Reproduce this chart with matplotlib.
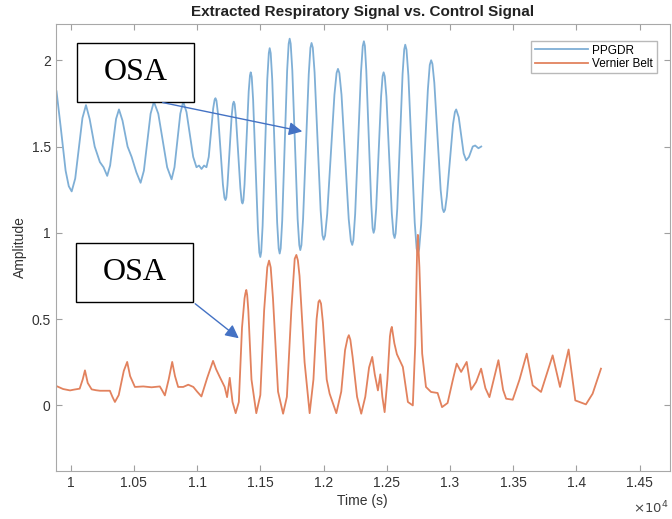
import matplotlib
matplotlib.use('Agg')
import matplotlib.pyplot as plt
from matplotlib.patches import Rectangle, FancyArrowPatch
from matplotlib.ticker import FuncFormatter

plt.rcParams['font.family'] = ['Liberation Sans', 'DejaVu Sans']

# PPGDR (extracted respiratory signal), time in s
ppg_t = [9888, 9920, 9960, 9985, 10008, 10036, 10093, 10121, 10150, 10190, 10231, 10260,
         10289, 10312, 10359, 10382, 10410, 10450, 10482, 10520, 10553, 10579, 10632, 10658,
         10693, 10763, 10798, 10821, 10867, 10890, 10916, 10969, 10995, 11015, 11035, 11055,
         11074, 11092, 11127, 11138, 11145, 11153, 11165, 11204, 11216, 11224, 11231, 11240,
         11273, 11283, 11290, 11297, 11307, 11342, 11352, 11359, 11366, 11375, 11408, 11418,
         11424, 11432, 11443, 11481, 11492, 11500, 11507, 11518, 11555, 11567, 11574, 11582,
         11594, 11633, 11645, 11653, 11661, 11673, 11712, 11724, 11732, 11740, 11753, 11795,
         11808, 11816, 11825, 11838, 11883, 11896, 11905, 11915, 11929, 11977, 11991, 12001,
         12012, 12029, 12086, 12103, 12114, 12125, 12142, 12199, 12216, 12227, 12236, 12250,
         12296, 12310, 12319, 12327, 12338, 12377, 12388, 12396, 12404, 12416, 12455, 12467,
         12475, 12484, 12497, 12540, 12553, 12562, 12570, 12583, 12625, 12638, 12646, 12656,
         12671, 12721, 12736, 12746, 12756, 12772, 12825, 12840, 12851, 12861, 12876, 12926,
         12941, 12951, 12961, 12975, 13024, 13039, 13049, 13069, 13108, 13128, 13150, 13180,
         13199, 13225, 13247]
ppg_y = [1.82, 1.62, 1.36, 1.27, 1.24, 1.315, 1.665, 1.74, 1.66, 1.50, 1.41, 1.38,
         1.33, 1.39, 1.66, 1.715, 1.65, 1.50, 1.44, 1.35, 1.29, 1.36, 1.69, 1.76,
         1.69, 1.38, 1.31, 1.38, 1.69, 1.76, 1.70, 1.44, 1.38, 1.39, 1.37, 1.39,
         1.38, 1.44, 1.72, 1.77, 1.78, 1.766, 1.69, 1.28, 1.204, 1.19, 1.204, 1.275,
         1.675, 1.746, 1.76, 1.746, 1.67, 1.26, 1.184, 1.17, 1.188, 1.28, 1.82, 1.912,
         1.93, 1.904, 1.77, 1.02, 0.886, 0.86, 0.889, 1.04, 1.89, 2.041, 2.07, 2.041,
         1.89, 1.06, 0.909, 0.88, 0.91, 1.07, 1.94, 2.095, 2.125, 2.096, 1.94, 1.08,
         0.929, 0.90, 0.929, 1.08, 1.92, 2.071, 2.10, 2.073, 1.93, 1.13, 0.987, 0.96,
         0.984, 1.11, 1.80, 1.926, 1.95, 1.926, 1.80, 1.08, 0.954, 0.93, 0.958, 1.11,
         1.93, 2.082, 2.11, 2.083, 1.94, 1.17, 1.027, 1.00, 1.022, 1.14, 1.79, 1.908,
         1.93, 1.907, 1.79, 1.11, 0.993, 0.97, 0.997, 1.14, 1.92, 2.063, 2.09, 2.061,
         1.91, 1.06, 0.909, 0.88, 0.907, 1.05, 1.83, 1.973, 2.00, 1.979, 1.87, 1.25,
         1.141, 1.12, 1.134, 1.21, 1.63, 1.70, 1.715, 1.67, 1.46, 1.42, 1.44, 1.50,
         1.506, 1.49, 1.50]

# Vernier Belt (control signal)
belt_t = [9888, 9940, 9995, 10030, 10071, 10095, 10113, 10135, 10166, 10200, 10232, 10310,
          10330, 10350, 10380, 10420, 10447, 10470, 10508, 10574, 10640, 10705, 10725, 10745,
          10775, 10803, 10825, 10850, 10890, 10930, 10970, 11000, 11034, 11080, 11126, 11150,
          11179, 11218, 11237, 11258, 11280, 11305, 11330, 11355, 11375, 11382, 11389, 11396,
          11405, 11430, 11468, 11500, 11530, 11555, 11569, 11582, 11600, 11640, 11680, 11710,
          11745, 11772, 11785, 11797, 11810, 11850, 11890, 11920, 11945, 11960, 11969, 11980,
          11995, 12025, 12048, 12101, 12140, 12170, 12190, 12200, 12212, 12230, 12265, 12298,
          12330, 12360, 12385, 12405, 12430, 12449, 12465, 12483, 12505, 12525, 12533, 12540,
          12560, 12580, 12627, 12667, 12706, 12725, 12740, 12746, 12758, 12780, 12810, 12850,
          12902, 12937, 12981, 13020, 13053, 13088, 13132, 13167, 13207, 13246, 13280, 13312,
          13383, 13420, 13444, 13496, 13550, 13607, 13654, 13720, 13812, 13870, 13938, 13991,
          14075, 14128, 14194]
belt_y = [0.112, 0.095, 0.087, 0.092, 0.097, 0.15, 0.203, 0.13, 0.093, 0.088, 0.085, 0.085,
          0.05, 0.02, 0.06, 0.20, 0.252, 0.17, 0.107, 0.11, 0.105, 0.11, 0.085, 0.058,
          0.15, 0.252, 0.17, 0.107, 0.107, 0.12, 0.107, 0.08, 0.052, 0.16, 0.258, 0.21,
          0.165, 0.107, 0.048, 0.16, 0.02, -0.045, 0.02, 0.45, 0.62, 0.65, 0.669, 0.64,
          0.55, 0.15, -0.045, 0.06, 0.55, 0.80, 0.839, 0.80, 0.62, 0.08, -0.048, 0.05,
          0.55, 0.85, 0.872, 0.84, 0.75, 0.25, -0.045, 0.15, 0.50, 0.60, 0.61, 0.59,
          0.48, 0.15, 0.068, -0.045, 0.08, 0.32, 0.39, 0.407, 0.38, 0.28, 0.05, -0.048,
          0.05, 0.22, 0.281, 0.18, 0.087, 0.18, 0.05, -0.039, 0.15, 0.40, 0.44, 0.455,
          0.36, 0.297, 0.223, 0.02, 0.0, 0.35, 0.90, 0.988, 0.80, 0.30, 0.107, 0.078,
          0.072, -0.01, 0.014, 0.14, 0.242, 0.194, 0.252, 0.091, 0.136, 0.213, 0.10, 0.048,
          0.262, 0.09, 0.039, 0.033, 0.15, 0.30, 0.116, 0.078, 0.29, 0.107, 0.324, 0.029,
          0.006, 0.068, 0.213]

fig = plt.figure(figsize=(6.72, 5.19), dpi=100)
ax = fig.add_axes([55.5 / 672, 48 / 519, 614.5 / 672, 447 / 519])

ax.plot(ppg_t, ppg_y, color='#7fafd6', lw=1.3, label='PPGDR')
ax.plot(belt_t, belt_y, color='#e2825e', lw=1.3, label='Vernier Belt')

ax.set_xlim(9880, 14740)
ax.set_ylim(-0.38, 2.21)
ax.set_xticks([10000, 10500, 11000, 11500, 12000, 12500, 13000, 13500, 14000, 14500])
ax.set_yticks([0, 0.5, 1, 1.5, 2])
ax.xaxis.set_major_formatter(FuncFormatter(lambda v, p: f'{v / 1e4:g}'))
ax.yaxis.set_major_formatter(FuncFormatter(lambda v, p: f'{v:g}'))
ax.tick_params(direction='in', length=4, top=True, right=True, colors='#a0a0a0',
               labelcolor='#333333', labelsize=10)
for s in ax.spines.values():
    s.set_color('#a8a8a8')

ax.set_title('Extracted Respiratory Signal vs. Control Signal', fontsize=11,
             fontweight='bold', color='#222222', pad=6)
ax.set_xlabel('Time (s)', fontsize=10, color='#333333', labelpad=3)
ax.set_ylabel('Amplitude', fontsize=10, color='#333333', labelpad=3)
ax.text(0.997, -0.083, r'$\times10^4$', transform=ax.transAxes, ha='right', va='center',
        fontsize=9.5, color='#444444')

leg = ax.legend(loc='upper right', bbox_to_anchor=(0.988, 0.975), fontsize=8.5,
                frameon=True, fancybox=False, edgecolor='#a8a8a8', handlelength=4.5,
                borderpad=0.3, labelspacing=0.1, handletextpad=0.4)
leg.get_frame().set_linewidth(1.0)

# OSA annotation boxes (figure pixels, origin bottom-left)
osa_boxes = [(77, 417), (76, 217)]
osa_arrows = [((160, 417), (305, 387)), ((193, 217), (241, 179))]
for (bx, by), (p0, p1) in zip(osa_boxes, osa_arrows):
    fig.patches.append(Rectangle((bx, by), 117, 59, transform=None, fill=True,
                                 facecolor='white', edgecolor='black', lw=1.0, zorder=5))
    fig.text(bx + 58.5, by + 29.5, 'OSA', transform=None, ha='center', va='center',
             fontsize=23, family='Liberation Serif', zorder=6)
    fig.patches.append(FancyArrowPatch(p0, p1, transform=None, arrowstyle='-|>',
                                       mutation_scale=20, color='#4472c4', lw=1.0, zorder=6))

plt.savefig('out.png', dpi=100)
